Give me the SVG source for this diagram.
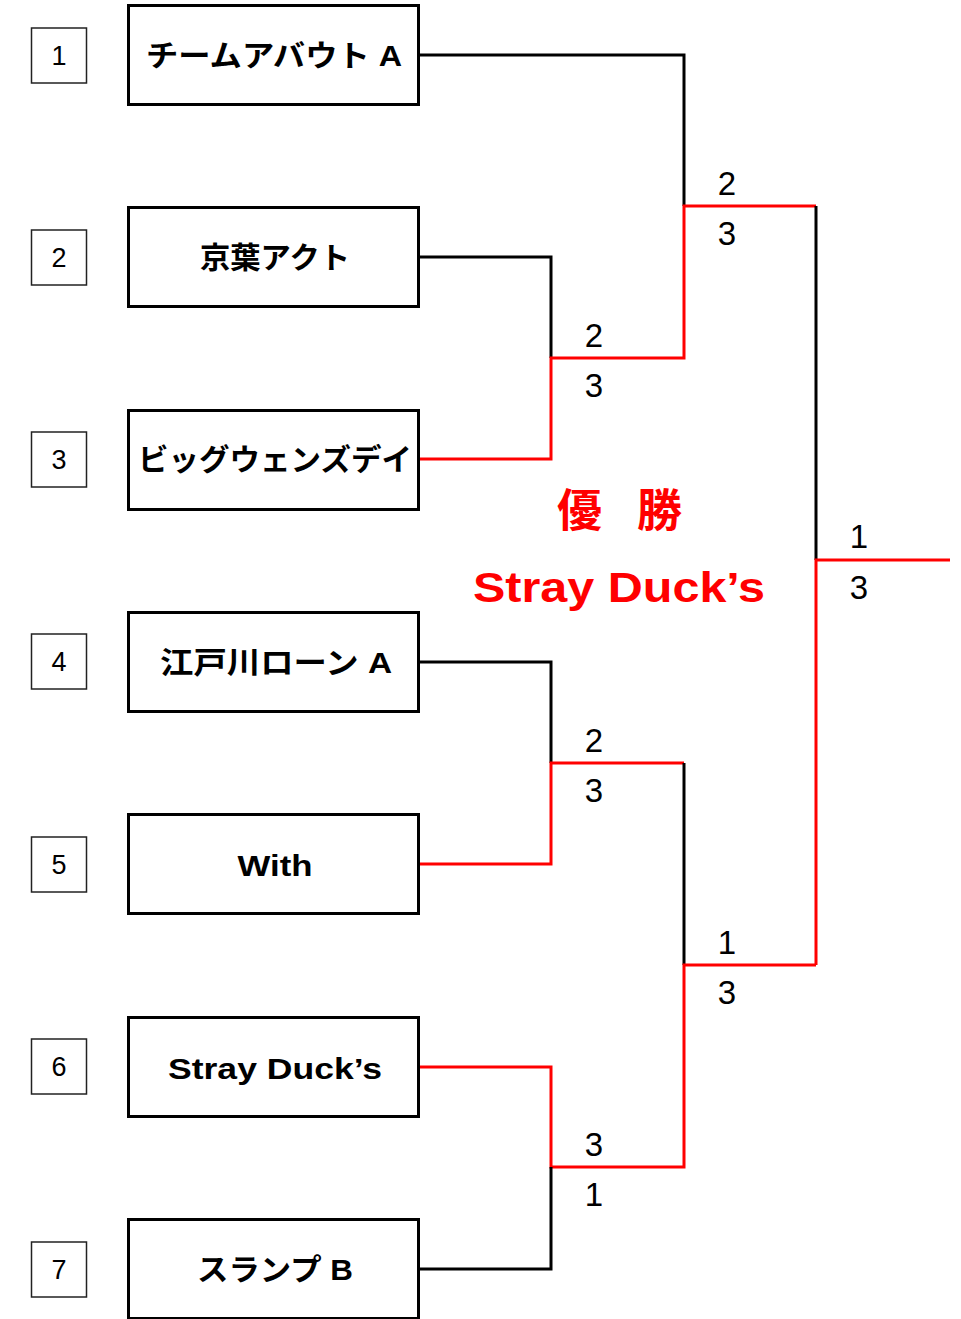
<svg xmlns="http://www.w3.org/2000/svg" width="961" height="1319" viewBox="0 0 961 1319">
<style>
.num rect{fill:#fff;stroke:#222;stroke-width:1.5}
.num text{font-family:"Liberation Sans","Noto Sans CJK JP",sans-serif;font-size:27px;text-anchor:middle;fill:#000}
.team rect{fill:#fff;stroke:#000;stroke-width:3}
.team text{font-family:"Liberation Sans","Noto Sans CJK JP",sans-serif;font-size:30px;font-weight:bold;text-anchor:middle;fill:#000}
.blk{fill:none;stroke:#000;stroke-width:3}
.red{fill:none;stroke:#ff0000;stroke-width:3}
.score{font-family:"Liberation Sans",sans-serif;font-size:33px;text-anchor:middle;fill:#000}
.win{font-family:"Liberation Sans","Noto Sans CJK JP",sans-serif;font-weight:bold;fill:#ff0000}
</style>
<rect width="961" height="1319" fill="#fff"/>
<g id="seed1" class="num"><rect x="31.5" y="28" width="55" height="55"/><text x="59" y="65">1</text></g>
<g id="seed2" class="num"><rect x="31.5" y="230" width="55" height="55"/><text x="59" y="267">2</text></g>
<g id="seed3" class="num"><rect x="31.5" y="432" width="55" height="55"/><text x="59" y="469">3</text></g>
<g id="seed4" class="num"><rect x="31.5" y="634" width="55" height="55"/><text x="59" y="671">4</text></g>
<g id="seed5" class="num"><rect x="31.5" y="837" width="55" height="55"/><text x="59" y="874">5</text></g>
<g id="seed6" class="num"><rect x="31.5" y="1039" width="55" height="55"/><text x="59" y="1076">6</text></g>
<g id="seed7" class="num"><rect x="31.5" y="1242" width="55" height="55"/><text x="59" y="1279">7</text></g>

<g id="team1" class="team"><rect x="128.5" y="5.5" width="290" height="99"/><text x="274" y="66" textLength="256" lengthAdjust="spacingAndGlyphs">チームアバウト A</text></g>
<g id="team2" class="team"><rect x="128.5" y="207.5" width="290" height="99"/><text x="275" y="268" textLength="150" lengthAdjust="spacingAndGlyphs">京葉アクト</text></g>
<g id="team3" class="team"><rect x="128.5" y="410.5" width="290" height="99"/><text x="275" y="470" textLength="274" lengthAdjust="spacingAndGlyphs">ビッグウェンズデイ</text></g>
<g id="team4" class="team"><rect x="128.5" y="612.5" width="290" height="99"/><text x="276" y="673" textLength="232" lengthAdjust="spacingAndGlyphs">江戸川ローン A</text></g>
<g id="team5" class="team"><rect x="128.5" y="814.5" width="290" height="99"/><text x="275" y="876" textLength="75" lengthAdjust="spacingAndGlyphs">With</text></g>
<g id="team6" class="team"><rect x="128.5" y="1017.5" width="290" height="99"/><text x="275" y="1079" textLength="214" lengthAdjust="spacingAndGlyphs">Stray Duck’s</text></g>
<g id="team7" class="team"><rect x="128.5" y="1219.5" width="290" height="99"/><text x="275" y="1280" textLength="156" lengthAdjust="spacingAndGlyphs">スランプ B</text></g>

<g id="connectors">
<path class="blk" d="M420 55H684V206"/>
<path class="blk" d="M420 257H551V358"/>
<path class="red" d="M420 459H551V358H684V206H816"/>
<path class="blk" d="M816 206V560"/>
<path class="red" d="M950 560H816V965"/>
<path class="blk" d="M420 662H551V763"/>
<path class="red" d="M420 864H551V763H684"/>
<path class="blk" d="M684 763V965"/>
<path class="red" d="M816 965H684V1167H551V1067H420"/>
<path class="blk" d="M551 1167V1269H420"/>
</g>

<g id="scores">
<text class="score" x="594" y="347">2</text><text class="score" x="594" y="397">3</text>
<text class="score" x="594" y="752">2</text><text class="score" x="594" y="802">3</text>
<text class="score" x="594" y="1156">3</text><text class="score" x="594" y="1206">1</text>
<text class="score" x="727" y="195">2</text><text class="score" x="727" y="245">3</text>
<text class="score" x="727" y="954">1</text><text class="score" x="727" y="1004">3</text>
<text class="score" x="859" y="548">1</text><text class="score" x="859" y="599">3</text>
</g>

<g id="champion">
<text class="win" x="557" y="527" font-size="45">優 <tspan x="637">勝</tspan></text>
<text class="win" x="473" y="602" font-size="43" textLength="292" lengthAdjust="spacingAndGlyphs">Stray Duck’s</text>
</g>
</svg>
